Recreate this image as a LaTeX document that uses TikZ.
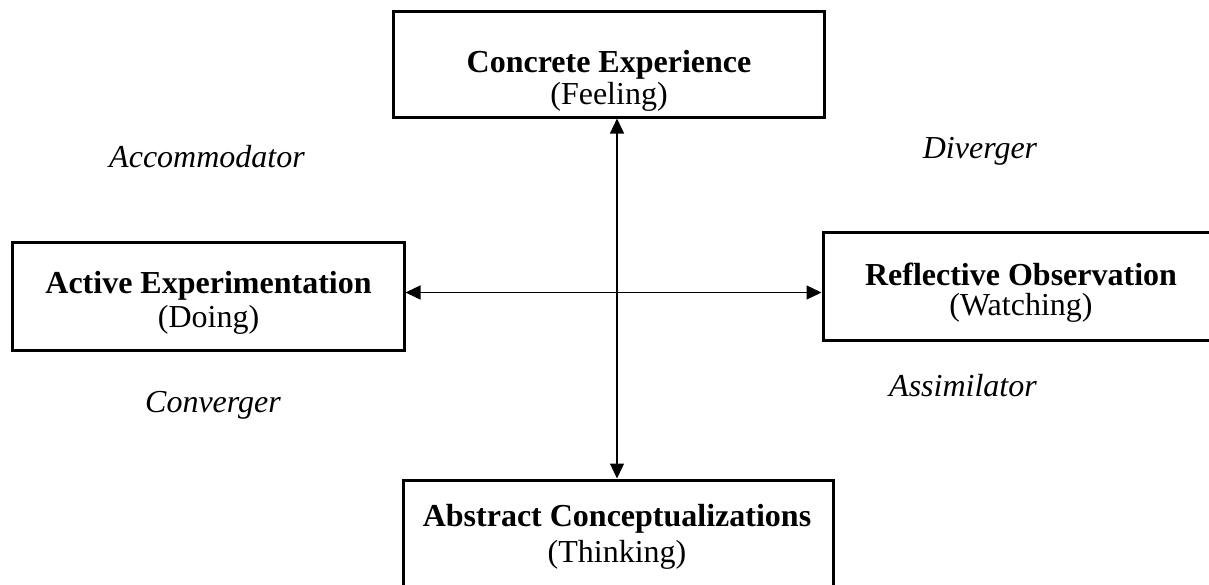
\documentclass[tikz,border=0pt]{standalone}
\usepackage{fontspec}
\setmainfont{Liberation Serif}
\usetikzlibrary{arrows.meta}
\begin{document}
\begin{tikzpicture}[x=1pt,y=-1pt,
  box/.style={draw=black, line width=3pt, rectangle, inner sep=0pt},
  title/.style={font=\fontsize{32}{36}\selectfont\bfseries, anchor=base, inner sep=0pt},
  sub/.style={font=\fontsize{32}{36}\selectfont, anchor=base, inner sep=0pt},
  lab/.style={font=\fontsize{32}{36}\selectfont\itshape, anchor=base, inner sep=0pt},
  link/.style={line width=1.3pt, {Triangle[length=15pt,width=14pt]}-{Triangle[length=15pt,width=14pt]}}]
\useasboundingbox (0,0) rectangle (1209,584);
\clip (0,0) rectangle (1209,584);
\fill[white] (0,0) rectangle (1209,584);
% boxes
\node[box, minimum width=431pt, minimum height=106pt] (CE) at (608.5,64) {};
\node[box, minimum width=392pt, minimum height=108pt] (AE) at (208,296) {};
\node[box, minimum width=400pt, minimum height=108pt] (RO) at (1023,286) {};
\node[box, minimum width=430pt, minimum height=108pt] (AC) at (618,534) {};
% texts
\node[title] (CEt) at (609,72) {Concrete Experience};
\node[sub] (CEs) at (609,104) {(Feeling)};
\node[title] (AEt) at (208.5,293) {Active Experimentation};
\node[sub] (AEs) at (208.5,327) {(Doing)};
\node[title] (ROt) at (1021,285) {Reflective Observation};
\node[sub] (ROs) at (1021,315) {(Watching)};
\node[title] (ACt) at (617,526) {Abstract Conceptualizations};
\node[sub] (ACs) at (617,562) {(Thinking)};
% style labels
\node[lab] (acc) at (207,167) {Accommodator};
\node[lab] (div) at (980,158) {Diverger};
\node[lab] (con) at (213,412) {Converger};
\node[lab] (ass) at (963,396) {Assimilator};
% axes
\coordinate (vx) at (617,0);
\coordinate (hy) at (0,292.5);
\draw[link] (vx |- CE.south) -- (vx |- AC.north);
\draw[link] (AE.east |- hy) -- (RO.west |- hy);
\end{tikzpicture}
\end{document}
